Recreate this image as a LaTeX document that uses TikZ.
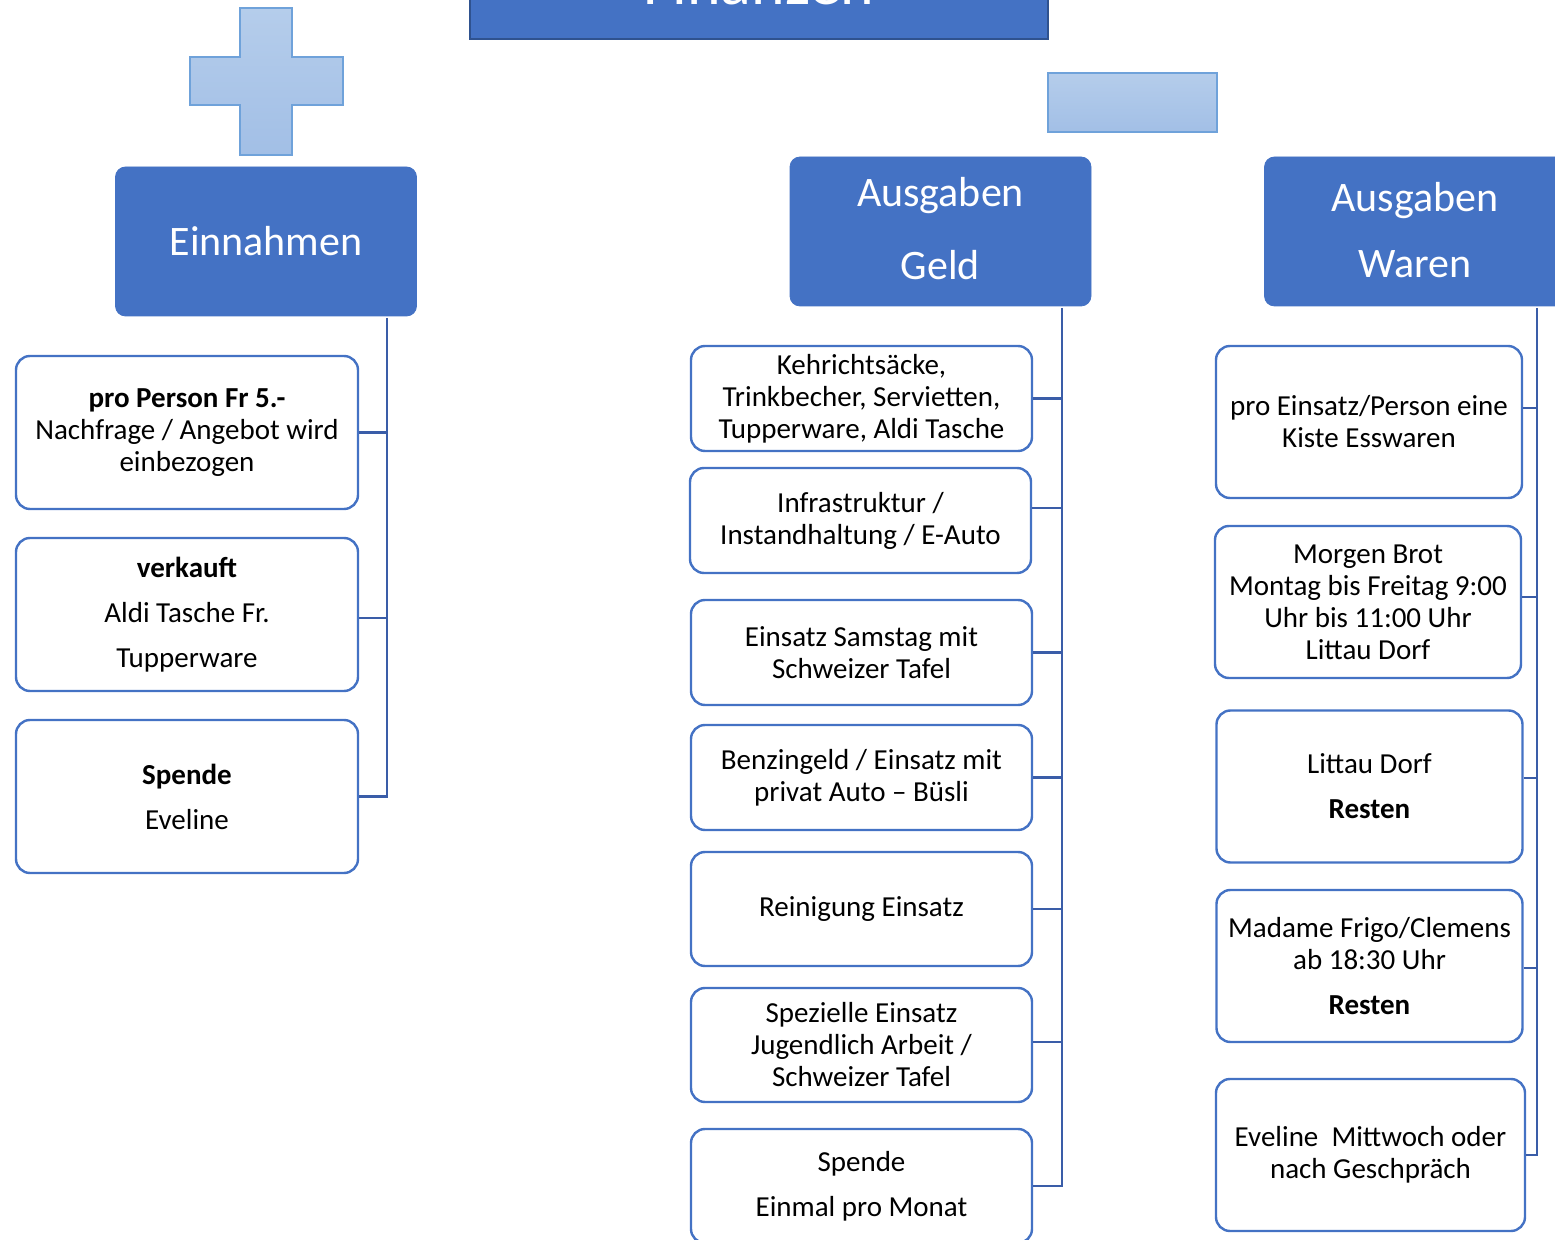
\documentclass[tikz,border=0pt]{standalone}
\usepackage{fontspec}
\setmainfont{Carlito}
\definecolor{hdrblue}{HTML}{4472C4}
\definecolor{linkblue}{HTML}{3A5DA8}
\definecolor{titleline}{HTML}{2F528F}
\definecolor{signtop}{HTML}{B5CDEB}
\definecolor{signbot}{HTML}{A2BFE6}
\definecolor{signline}{HTML}{6FA2DA}

\begin{document}
\begin{tikzpicture}[x=0.5pt,y=-0.5pt,
  hdr/.style={fill=hdrblue, draw=hdrblue, rounded corners=5pt, text=white,
    font=\fontsize{21}{25}\selectfont, align=center,
    minimum width=150.5pt, minimum height=74.5pt, inner sep=0pt},
  item/.style={draw=hdrblue, line width=1.2pt, fill=white, rounded corners=7pt,
    align=center, font=\fontsize{14.5}{16}\selectfont, inner sep=0pt},
  einbox/.style={item, minimum width=171pt, minimum height=76.5pt},
  geldbox/.style={item, minimum width=170.5pt, minimum height=52.5pt},
  warenbox/.style={item, minimum width=153pt, minimum height=76pt},
  link/.style={draw=linkblue, line width=1.3pt},
  sign/.style={top color=signtop, bottom color=signbot, draw=signline, line width=0.8pt}]
  \useasboundingbox (0,0) rectangle (1555,1240);
  \clip (0,0) rectangle (1555,1240);

  % title, cut at the top edge
  \node[fill=hdrblue, draw=titleline, line width=1pt, anchor=south, text=white,
    minimum width=289pt, minimum height=55pt, text height=21pt, text depth=0pt,
    inner sep=0pt, font=\fontsize{32}{36}\selectfont] (titel) at (759,40) {Finanzen};

  % plus and minus signs
  \shade[sign] (240,8) -- (292,8) -- (292,57) -- (343,57) -- (343,105) -- (292,105)
    -- (292,155) -- (240,155) -- (240,105) -- (190,105) -- (190,57) -- (240,57) -- cycle;
  \shade[sign] (1048,73) rectangle (1217,132);

  % headers
  \node[hdr] (ein) at (266,241.5) {Einnahmen};
  \node[hdr, text depth=3pt] (geld) at (940.5,231.5) {Ausgaben\\[11.5pt]Geld};
  \node[hdr, text depth=2pt] (waren) at (1415,231.5) {Ausgaben\\[8pt]Waren};

  % Einnahmen
  \node[einbox] (L1) at (187,432.5) {\textbf{pro Person Fr 5.-}\\Nachfrage / Angebot wird\\einbezogen};
  \node[einbox] (L2) at (187,614.5) {\textbf{verkauft}\\[6.5pt]Aldi Tasche Fr.\\[6.5pt]Tupperware};
  \node[einbox] (L3) at (187,796.5) {\textbf{Spende}\\[6.5pt]Eveline};

  % Ausgaben Geld
  \node[geldbox] (M1) at (861.5,398.5) {Kehrichtsäcke,\\Trinkbecher, Servietten,\\Tupperware, Aldi Tasche};
  \node[geldbox] (M2) at (860.5,520.5) {Infrastruktur /\\Instandhaltung / E-Auto};
  \node[geldbox] (M3) at (861.5,652.5) {Einsatz Samstag mit\\Schweizer Tafel};
  \node[geldbox] (M4) at (861.5,777.5) {Benzingeld / Einsatz mit\\privat Auto – Büsli};
  \node[geldbox, minimum height=57pt] (M5) at (861.5,909) {Reinigung Einsatz};
  \node[geldbox, minimum height=57pt] (M6) at (861.5,1045) {Spezielle Einsatz\\Jugendlich Arbeit /\\Schweizer Tafel};
  \node[geldbox, minimum height=57pt] (M7) at (861.5,1186) {Spende\\[6.5pt]Einmal pro Monat};

  % Ausgaben Waren
  \node[warenbox] (R1) at (1369,422) {pro Einsatz/Person eine\\Kiste Esswaren};
  \node[warenbox] (R2) at (1368,602) {Morgen Brot\\Montag bis Freitag 9:00\\Uhr bis 11:00 Uhr\\Littau Dorf};
  \node[warenbox] (R3) at (1369.5,786.5) {Littau Dorf\\[6.5pt]\textbf{Resten}};
  \node[warenbox] (R4) at (1369.5,966) {Madame Frigo/Clemens\\ab 18:30 Uhr\\[6.5pt]\textbf{Resten}};
  \node[warenbox, minimum width=154.5pt] (R5) at (1370.5,1155) {Eveline\ \ Mittwoch oder\\nach Geschpräch};

  % connectors
  \coordinate (einSpine) at (387,318);
  \coordinate (geldSpine) at (1062,308);
  \coordinate (warenSpine) at (1537,308);
  \draw[link] (einSpine) |- (L3.east);
  \draw[link] (geldSpine) |- (M7.east);
  \draw[link] (warenSpine) |- (R5.east);
  \foreach \n/\dy in {L1/0,L2/-1.75}{
    \coordinate (tap) at ([yshift=\dy pt]\n.east);
    \draw[link] (tap) -- (tap -| einSpine);
  }
  \foreach \n/\dy in {M1/0,M2/6.25,M3/0,M4/0,M5/0,M6/1.5}{
    \coordinate (tap) at ([yshift=\dy pt]\n.east);
    \draw[link] (tap) -- (tap -| geldSpine);
  }
  \foreach \n/\dy in {R1/7,R2/2.5,R3/4.25,R4/-1}{
    \coordinate (tap) at ([yshift=\dy pt]\n.east);
    \draw[link] (tap) -- (tap -| warenSpine);
  }
\end{tikzpicture}
\end{document}
